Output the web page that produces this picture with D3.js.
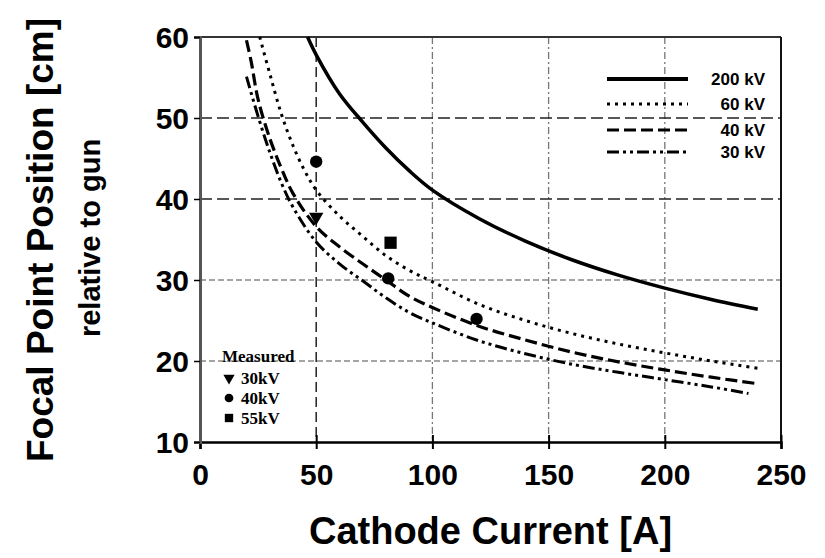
<!DOCTYPE html>
<html><head><meta charset="utf-8">
<script src="https://cdn.jsdelivr.net/npm/d3@7"></script>
<style>
html,body{margin:0;padding:0;background:#fff;}
svg{display:block;}
</style></head>
<body>
<svg id="chart" width="825" height="558"></svg>
<script>
// ---- data ----
const xTicks = [0, 50, 100, 150, 200, 250];
const yTicks = [10, 20, 30, 40, 50, 60];
const seriesNames = ["200 kV", "60 kV", "40 kV", "30 kV"];
const curve200 = [[46.3,60],[50,57.8],[60,53],[70,49.5],[80,46.3],[90,43.5],[100,41.1],[120,37.6],[140,34.8],[160,32.5],[180,30.6],[200,29.0],[220,27.6],[240,26.4]];
const curve60 = [[25.7,60],[30,55.5],[35,50.5],[40,46.6],[45,43.5],[50,41.1],[60,37.9],[70,35.4],[80,33.0],[90,31.2],[100,29.8],[120,27.0],[140,25.0],[160,23.4],[180,22.1],[200,21.0],[220,20.0],[240,19.1]];
const curve40 = [[20,59.6],[22,57],[25,52.3],[30,47.5],[35,43.8],[40,40.7],[50,36.6],[60,34.1],[70,32.0],[80,30.0],[90,28.0],[100,26.6],[120,24.3],[140,22.6],[160,21.1],[180,19.9],[200,18.9],[220,18.0],[240,17.2]];
const curve30 = [[20,55.1],[25,50.2],[30,45.8],[35,42.0],[40,39.0],[50,34.7],[60,32.0],[70,29.9],[80,27.8],[90,26.0],[100,24.7],[120,22.5],[140,20.9],[160,19.6],[180,18.6],[200,17.7],[220,16.8],[236,16.0]];
const measuredNames = ["30kV", "40kV", "55kV"];
const measured30 = [[50,37.8]];
const measured40 = [[50,44.6],[81,30.2],[119,25.2]];
const measured55 = [[82,34.6]];

// ---- layout ----
const svg = d3.select("#chart");
const L = 200, R = 781, T = 37, B = 442;
const x = d3.scaleLinear().domain([0,250]).range([L,R]);
const y = d3.scaleLinear().domain([10,60]).range([B,T]);
const sans = "'Liberation Sans', Arial, sans-serif";
const serif = "'Liberation Serif', 'Times New Roman', serif";

// gridlines
const gx = [50,100,150,200];
const gy = [20,30,40,50];
svg.append("g").selectAll("line").data(gx).join("line")
  .attr("x1", d=>x(d)).attr("x2", d=>x(d)).attr("y1", T).attr("y2", B)
  .attr("stroke", d=> d===50 ? "#222" : "#777").attr("stroke-width", d=> d===50?1.5:1.3)
  .attr("stroke-dasharray", d=> d===50 ? "10,5" : "7,3,2,3");
svg.append("g").selectAll("line").data(gy).join("line")
  .attr("x1", L).attr("x2", R).attr("y1", d=>y(d)).attr("y2", d=>y(d))
  .attr("stroke", d=> d>=40 ? "#222" : "#888").attr("stroke-width", d=> d>=40?1.5:1.3)
  .attr("stroke-dasharray", d=> d>=40 ? "12,5" : "6,3");

// border
svg.append("line").attr("x1",L).attr("x2",R).attr("y1",T).attr("y2",T).attr("stroke","#333").attr("stroke-width",2);
svg.append("line").attr("x1",R).attr("x2",R).attr("y1",T).attr("y2",B).attr("stroke","#111").attr("stroke-width",2);

// axes
const xAxis = svg.append("g").attr("transform",`translate(0,${B})`)
  .call(d3.axisBottom(x).tickValues(xTicks).tickSize(7).tickFormat(d3.format("d")));
xAxis.select(".domain").attr("stroke","#000").attr("stroke-width",2.5);
xAxis.selectAll(".tick line").attr("stroke","#000").attr("stroke-width",2).attr("y1",-7);
xAxis.selectAll(".tick text").attr("font-family",sans).attr("font-weight","bold").attr("font-size",30).attr("fill","#000").attr("dy","0.4em").attr("y",31);

const yAxis = svg.append("g").attr("transform",`translate(${L},0)`)
  .call(d3.axisLeft(y).tickValues(yTicks).tickSize(6).tickFormat(d3.format("d")));
yAxis.select(".domain").attr("stroke","#555").attr("stroke-width",3);
yAxis.selectAll(".tick line").attr("stroke","#000").attr("stroke-width",1.5);
yAxis.selectAll(".tick text").attr("font-family",sans).attr("font-weight","bold").attr("font-size",30).attr("fill","#000").attr("x",-11).attr("dy","0.36em");

// clip
svg.append("clipPath").attr("id","clip").append("rect").attr("x",L).attr("y",T-2).attr("width",R-L).attr("height",B-T+2);

const line = d3.line().x(d=>x(d[0])).y(d=>y(d[1])).curve(d3.curveCatmullRom.alpha(0.5));
const styles = [
  {data:curve200, w:3.5, dash:null},
  {data:curve60, w:3, dash:"3,5"},
  {data:curve40, w:3.2, dash:"12,5"},
  {data:curve30, w:3, dash:"12,4,3,4,3,4"}
];
const cg = svg.append("g").attr("clip-path","url(#clip)");
styles.forEach(s=>{
  cg.append("path").attr("d", line(s.data)).attr("fill","none").attr("stroke","#000")
    .attr("stroke-width", s.w).attr("stroke-dasharray", s.dash);
});

// measured markers
const tri = d3.symbol().type(d3.symbolTriangle).size(90);
const circ = d3.symbol().type(d3.symbolCircle).size(120);
const sq = d3.symbol().type(d3.symbolSquare).size(150);
const mg = svg.append("g");
measured30.forEach(p=> mg.append("path").attr("d",tri()).attr("transform",`translate(${x(p[0])},${y(p[1])}) rotate(180)`).attr("fill","#000"));
measured40.forEach(p=> mg.append("path").attr("d",circ()).attr("transform",`translate(${x(p[0])},${y(p[1])})`).attr("fill","#000"));
measured55.forEach(p=> mg.append("path").attr("d",sq()).attr("transform",`translate(${x(p[0])},${y(p[1])})`).attr("fill","#000"));

// legend (top right)
const lg = svg.append("g");
const ly = [79, 104, 130, 152];
styles.forEach((s,i)=>{
  lg.append("line").attr("x1",607).attr("x2",688).attr("y1",ly[i]).attr("y2",ly[i])
    .attr("stroke","#000").attr("stroke-width", i===0?4:3).attr("stroke-dasharray", s.dash);
  lg.append("text").attr("x",765).attr("y",ly[i]).attr("dy","0.36em").attr("text-anchor","end")
    .attr("font-family",sans).attr("font-weight","bold").attr("font-size",17).text(seriesNames[i]);
});

// measured legend
const ml = svg.append("g");
ml.append("text").attr("x",222).attr("y",362).attr("font-family",serif).attr("font-weight","bold").attr("font-size",17).text("Measured");
const mly = [378, 398, 418];
const msyms = [d3.symbol().type(d3.symbolTriangle).size(55), d3.symbol().type(d3.symbolCircle).size(60), d3.symbol().type(d3.symbolSquare).size(70)];
mly.forEach((yy,i)=>{
  ml.append("path").attr("d",msyms[i]()).attr("transform",`translate(229,${yy})${i===0?" rotate(180)":""}`).attr("fill","#000");
  ml.append("text").attr("x",241).attr("y",yy).attr("dy","0.35em").attr("font-family",serif).attr("font-weight","bold").attr("font-size",17).text(measuredNames[i]);
});

// axis titles
svg.append("text").attr("x",(L+R)/2).attr("y",544).attr("text-anchor","middle")
  .attr("font-family",sans).attr("font-weight","bold").attr("font-size",38).text("Cathode Current [A]");
svg.append("text").attr("transform","translate(53,240) rotate(-90)").attr("text-anchor","middle")
  .attr("font-family",sans).attr("font-weight","bold").attr("font-size",37).text("Focal Point Position [cm]");
svg.append("text").attr("transform","translate(100,238) rotate(-90)").attr("text-anchor","middle")
  .attr("font-family",sans).attr("font-weight","bold").attr("font-size",29).text("relative to gun");
</script>
</body></html>
